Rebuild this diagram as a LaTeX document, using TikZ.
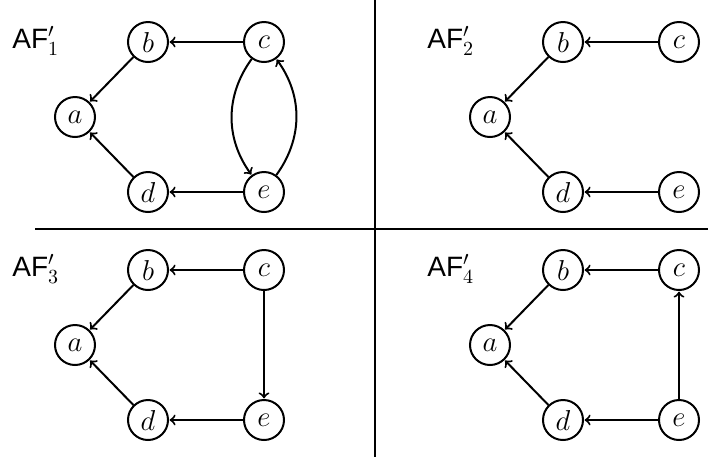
\documentclass[tikz,border=0pt]{standalone}
\usepackage{fontspec}
\newfontfamily\hv{Liberation Sans}
\begin{document}
\begin{tikzpicture}[x=0.5pt,y=-0.5pt,
  arg/.style={circle,draw,line width=1pt,minimum size=20pt,inner sep=0pt,font=\fontsize{15.5}{18}\selectfont},
  att/.style={->,line width=1pt,shorten >=0.3pt},
  lbl/.style={anchor=base west,inner sep=0pt,font=\hv\fontsize{14}{16}\selectfont},
  divider/.style={line width=1.4pt}]
\useasboundingbox (0,0) rectangle (708,457);
% dividers
\coordinate (vt) at (375,0);
\coordinate (vb) at (375,457);
\coordinate (hl) at (35,229);
\coordinate (hr) at (708,229);
\draw[divider] (vt) -- (vb);
\draw[divider] (hl) -- (hr);
% panels
\foreach \p/\dx/\dy in {1/0/0,2/415/0,3/0/228,4/415/228}{
  \begin{scope}[shift={(\dx,\dy)}]
    \node[lbl] (l\p) at (12,48) {AF$'_{\p}$};
    \node[arg] (a\p) at (75,117) {$a$};
    \node[arg] (b\p) at (148,42) {$b$};
    \node[arg] (c\p) at (264,42) {$c$};
    \node[arg] (d\p) at (148,192) {$d$};
    \node[arg] (e\p) at (264,192) {$e$};
    \draw[att] (b\p) -- (a\p);
    \draw[att] (d\p) -- (a\p);
    \draw[att] (c\p) -- (b\p);
    \draw[att] (e\p) -- (d\p);
  \end{scope}
}
\draw[att] (c1) to[bend right=36] (e1);
\draw[att] (e1) to[bend right=36] (c1);
\draw[att] (c3) -- (e3);
\draw[att] (e4) -- (c4);
\end{tikzpicture}
\end{document}
